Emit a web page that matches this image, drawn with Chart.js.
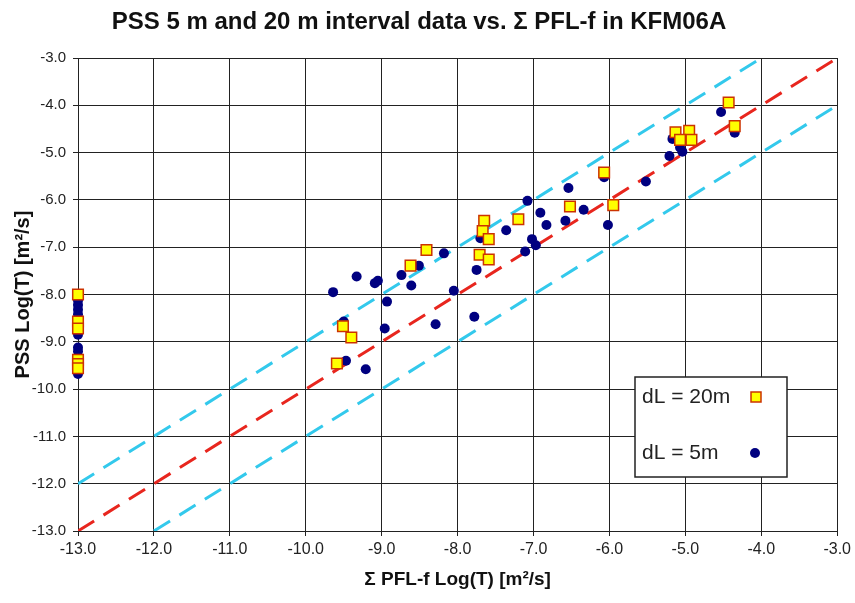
<!DOCTYPE html>
<html>
<head>
<meta charset="utf-8">
<script src="https://cdn.jsdelivr.net/npm/chart.js@4.4.1/dist/chart.umd.min.js"></script>
<style>
  html, body { margin: 0; padding: 0; background: #fff; }
  #wrap { width: 855px; height: 603px; }
</style>
</head>
<body>
<div id="wrap"><canvas id="pflChart"></canvas></div>
<script>
// dL = 20m intervals (x: sum PFL-f log T, y: PSS log T)
const sq20X = [-13, -13, -13, -13, -13, -13,
  -9.59, -9.51, -9.40, -8.62, -8.41,
  -7.71, -7.59, -7.65, -7.67, -7.59, -7.20,
  -6.52, -6.07, -5.95, -5.13, -4.95, -5.07, -4.92, -4.43, -4.35];
const sq20Y = [-8.00, -8.57, -8.72, -9.38, -9.47, -9.56,
  -9.46, -8.67, -8.91, -7.39, -7.06,
  -7.16, -7.26, -6.44, -6.66, -6.83, -6.41,
  -6.14, -5.42, -6.11, -4.57, -4.54, -4.73, -4.73, -3.94, -4.44];

// dL = 5m intervals
const dot5X = [-13, -13, -13, -13, -13, -13, -13, -13,
  -9.64, -9.50, -9.47, -9.21, -9.33, -9.05, -9.09, -8.93, -8.96,
  -8.74, -8.61, -8.51, -8.29, -8.18, -8.05,
  -7.78, -7.75, -7.70, -7.36, -7.11, -7.08, -7.02, -6.97, -6.91, -6.83,
  -6.58, -6.54, -6.34, -6.07, -6.02, -5.52,
  -5.21, -5.17, -5.07, -5.04, -4.53, -4.35];
const dot5Y = [-8.12, -8.22, -8.32, -8.42, -8.85, -9.12, -9.20, -9.68,
  -7.95, -8.57, -9.40, -9.58, -7.62, -7.71, -7.76, -8.15, -8.72,
  -7.59, -7.81, -7.39, -8.63, -7.13, -7.92,
  -8.47, -7.48, -6.81, -6.64, -7.09, -6.02, -6.83, -6.96, -6.27, -6.53,
  -6.44, -5.75, -6.21, -5.52, -6.53, -5.61,
  -5.07, -4.71, -4.89, -4.98, -4.14, -4.58];

// 1:1 line and +/- one order of magnitude
const unityX = [-13, -3];
const unityY = [-13, -3];
const upperX = [-13, -4];
const upperY = [-12, -3];
const lowerX = [-12, -3];
const lowerY = [-13, -4];

const legendItems = ['dL = 20m', 'dL = 5m'];

const toPts = (xs, ys) => xs.map((x, i) => ({ x, y: ys[i] }));

const CYAN = '#33c9ec';
const RED = '#e8261e';

// legend box drawn inside the plot area
const boxLegend = {
  id: 'boxLegend',
  afterDatasetsDraw(chart) {
    const ctx = chart.ctx;
    const x0 = 635, y0 = 377, w = 152, h = 100;
    ctx.save();
    ctx.fillStyle = '#fff';
    ctx.fillRect(x0, y0, w, h);
    ctx.strokeStyle = '#222';
    ctx.lineWidth = 1.5;
    ctx.strokeRect(x0, y0, w, h);
    ctx.fillStyle = '#222';
    ctx.font = '21px "Liberation Sans", Arial, sans-serif';
    ctx.textBaseline = 'middle';
    ctx.fillText(legendItems[0], x0 + 7, y0 + 20);
    ctx.fillText(legendItems[1], x0 + 7, y0 + 76);
    // yellow square marker
    ctx.fillStyle = '#ffff00';
    ctx.strokeStyle = '#cc3300';
    ctx.lineWidth = 1.5;
    ctx.fillRect(x0 + 116, y0 + 15, 10, 10);
    ctx.strokeRect(x0 + 116, y0 + 15, 10, 10);
    // navy dot marker
    ctx.fillStyle = '#000080';
    ctx.beginPath();
    ctx.arc(x0 + 120, y0 + 76, 5, 0, Math.PI * 2);
    ctx.fill();
    ctx.restore();
  }
};

const dashed = (color, xs, ys) => ({
  type: 'line',
  data: toPts(xs, ys),
  borderColor: color,
  borderWidth: 3,
  borderDash: [19, 11],
  pointRadius: 0,
  showLine: true,
  fill: false,
  order: 3
});

new Chart(document.getElementById('pflChart'), {
  type: 'scatter',
  data: {
    datasets: [
      {
        label: legendItems[0],
        data: toPts(sq20X, sq20Y),
        pointStyle: 'rect',
        pointRadius: 7.5,
        backgroundColor: '#ffff00',
        borderColor: '#cc3300',
        borderWidth: 1.5,
        clip: false,
        order: 1
      },
      {
        label: legendItems[1],
        data: toPts(dot5X, dot5Y),
        pointStyle: 'circle',
        pointRadius: 5,
        backgroundColor: '#000080',
        borderColor: '#000080',
        borderWidth: 0,
        clip: false,
        order: 2
      },
      dashed(RED, unityX, unityY),
      dashed(CYAN, upperX, upperY),
      dashed(CYAN, lowerX, lowerY)
    ]
  },
  options: {
    responsive: true,
    maintainAspectRatio: false,
    animation: false,
    layout: { padding: { left: 0, right: 17, top: 0, bottom: 0 } },
    plugins: {
      legend: { display: false },
      tooltip: { enabled: false },
      title: {
        display: true,
        text: 'PSS 5 m and 20 m interval data vs. Σ PFL-f in KFM06A',
        color: '#111',
        font: { family: '"Liberation Sans", Arial, sans-serif', size: 24, weight: 'bold', lineHeight: 1.2 },
        padding: { top: 8, bottom: 21.2 }
      }
    },
    scales: {
      x: {
        type: 'linear',
        min: -13,
        max: -3,
        ticks: {
          stepSize: 1,
          color: '#222',
          padding: 4,
          font: { family: '"Liberation Sans", Arial, sans-serif', size: 16 },
          callback: v => v.toFixed(1)
        },
        grid: { color: '#222', lineWidth: 1, tickLength: 5 },
        border: { color: '#222', width: 1 },
        title: {
          display: true,
          text: 'Σ PFL-f Log(T) [m²/s]',
          color: '#111',
          font: { family: '"Liberation Sans", Arial, sans-serif', size: 19, weight: 'bold' },
          padding: { top: 0, bottom: 12 }
        },
        afterFit: s => { s.height = 72; }
      },
      y: {
        type: 'linear',
        min: -13,
        max: -3,
        ticks: {
          stepSize: 1,
          color: '#222',
          padding: 7,
          font: { family: '"Liberation Sans", Arial, sans-serif', size: 15 },
          callback: v => v.toFixed(1)
        },
        grid: { color: '#222', lineWidth: 1, tickLength: 5 },
        border: { color: '#222', width: 1 },
        title: {
          display: true,
          text: 'PSS Log(T) [m²/s]',
          color: '#111',
          font: { family: '"Liberation Sans", Arial, sans-serif', size: 20, weight: 'bold' },
          padding: { top: 11, bottom: 0 }
        },
        afterFit: s => { s.width = 78; }
      }
    }
  },
  plugins: [boxLegend]
});
</script>
</body>
</html>
